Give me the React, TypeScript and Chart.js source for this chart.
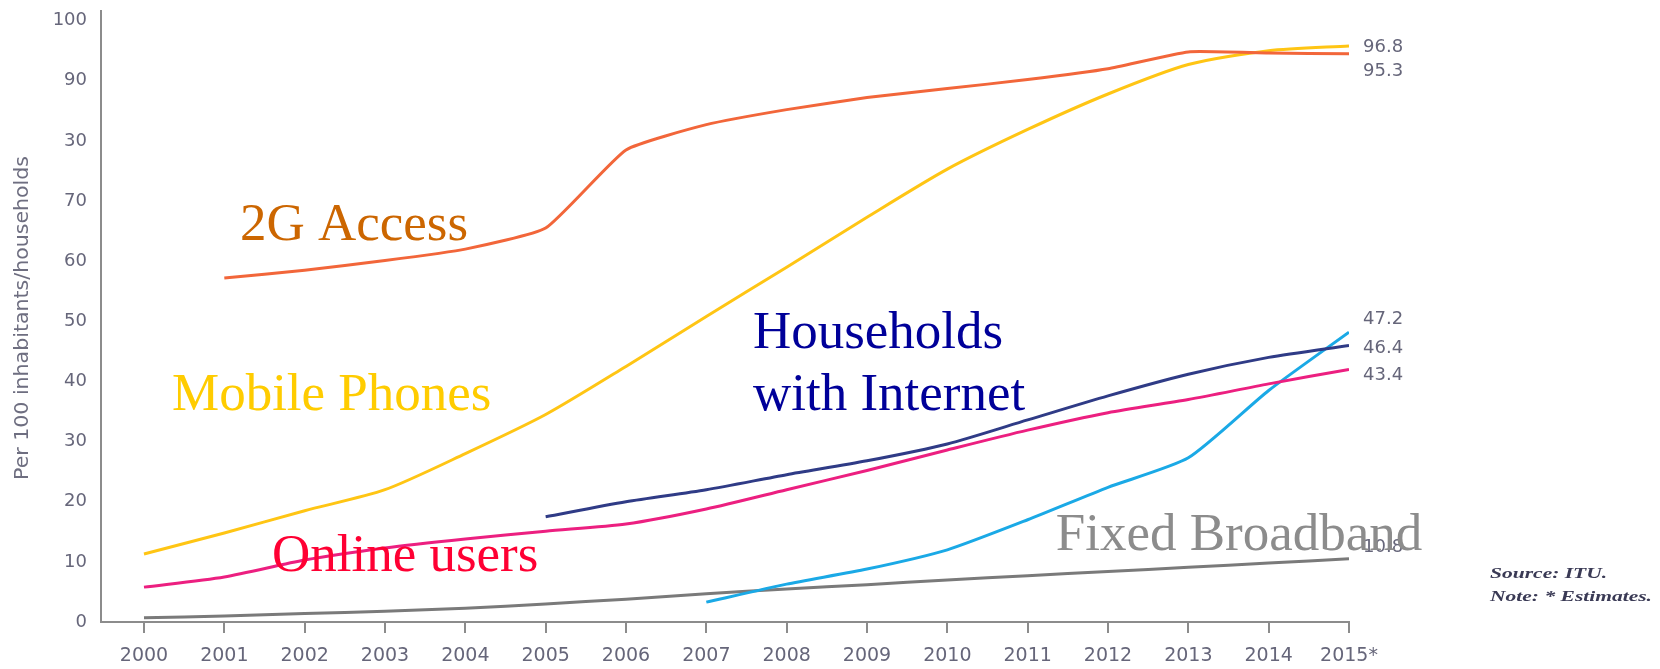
import React, { useEffect, useRef } from "react";
import { Chart, registerables } from "chart.js";

Chart.register(...registerables);

// ---------- data ----------
const years = ["2000", "2001", "2002", "2003", "2004", "2005", "2006", "2007", "2008", "2009", "2010", "2011", "2012", "2013", "2014", "2015*"];
const yTickLabels = ["0", "10", "20", "30", "40", "50", "60", "70", "30", "90", "100"];

const access2G: (number | null)[] = [null, 57.2, 58.5, 60.1, 62.0, 65.5, 78.5, 82.7, 85.2, 87.2, 88.7, 90.2, 92.0, 94.8, 94.6, 94.5];
const mobilePhones: (number | null)[] = [11.3, 14.8, 18.5, 22.0, 28.0, 34.5, 42.5, 50.8, 59.0, 67.3, 75.3, 81.9, 87.8, 92.7, 95.0, 95.8];
const householdsInternet: (number | null)[] = [null, null, null, null, null, 17.5, 20.0, 22.0, 24.5, 26.8, 29.6, 33.6, 37.6, 41.2, 44.0, 46.0];
const onlineUsers: (number | null)[] = [5.8, 7.5, 10.3, 12.3, 13.8, 15.1, 16.3, 18.8, 22.0, 25.2, 28.6, 31.9, 34.8, 37.0, 39.6, 42.0];
const mobileBroadband: (number | null)[] = [null, null, null, null, null, null, null, 3.3, 6.3, 8.8, 12.0, 17.0, 22.4, 27.3, 38.5, 48.2];
const fixedBroadband: (number | null)[] = [0.7, 1.0, 1.4, 1.8, 2.3, 3.0, 3.8, 4.7, 5.5, 6.2, 7.0, 7.7, 8.4, 9.1, 9.8, 10.5];

const seriesNames = ["2G Access", "Mobile Phones", "Households with Internet", "Online users", "Mobile broadband", "Fixed Broadband"];
const endLabels = ["95.3", "96.8", "46.4", "43.4", "47.2", "10.8"];

const yTitle = "Per 100 inhabitants/households";
const sourceNote = ["Source: ITU.", "Note: * Estimates."];

// ---------- styles (kept apart from data) ----------
const lineColors = ["#f2663a", "#ffc514", "#2f3b86", "#ec1f80", "#1aa9e6", "#7a7a7a"];
const lineTension = [0.15, 0.25, 0.25, 0.25, 0.2, 0.25];
const endLabelDy = [18, 1, 3, 6, -13, -12];

type Note = { text: string; x: number; y: number; color: string };
const annotations: Note[] = [
  { text: "2G Access", x: 1.195, y: 63.6, color: "#cc6600" },
  { text: "Mobile Phones", x: 0.349, y: 35.3, color: "#ffcc00" },
  { text: "Households", x: 7.58, y: 45.6, color: "#000099" },
  { text: "with Internet", x: 7.58, y: 35.3, color: "#000099" },
  { text: "Online users", x: 1.593, y: 8.5, color: "#ff0033" },
  { text: "Fixed Broadband", x: 11.35, y: 11.9, color: "#8c8c8c" },
];

const seriesData = [access2G, mobilePhones, householdsInternet, onlineUsers, mobileBroadband, fixedBroadband];

function toPoints(arr: (number | null)[]) {
  const pts: { x: number; y: number }[] = [];
  arr.forEach((v, i) => {
    if (v !== null) pts.push({ x: i, y: v });
  });
  return pts;
}

export default function App() {
  const ref = useRef<HTMLCanvasElement>(null);

  useEffect(() => {
    document.body.style.margin = "0";
    const canvas = ref.current;
    if (!canvas) return;

    const textPlugin = {
      id: "textPlugin",
      afterDatasetsDraw(chart: any) {
        const ctx = chart.ctx;
        const xs = chart.scales.x;
        const ys = chart.scales.y;
        ctx.save();
        // end value labels
        ctx.font = "18px 'DejaVu Sans'";
        ctx.fillStyle = "#66667a";
        ctx.textAlign = "left";
        ctx.textBaseline = "middle";
        seriesData.forEach((arr, i) => {
          const last = arr[arr.length - 1] as number;
          const px = xs.getPixelForValue(arr.length - 1) + 14;
          const py = ys.getPixelForValue(last) + endLabelDy[i];
          ctx.fillText(endLabels[i], px, py);
        });
        // annotations
        ctx.font = "53px 'Liberation Serif', 'Times New Roman', serif";
        ctx.textBaseline = "alphabetic";
        annotations.forEach((a) => {
          ctx.fillStyle = a.color;
          ctx.fillText(a.text, xs.getPixelForValue(a.x), ys.getPixelForValue(a.y));
        });
        ctx.restore();
      },
      afterDraw(chart: any) {
        const ctx = chart.ctx;
        ctx.save();
        // y axis title (rotated)
        ctx.font = "19px 'DejaVu Sans'";
        ctx.fillStyle = "#6e6e80";
        ctx.textAlign = "center";
        ctx.textBaseline = "middle";
        const w = ctx.measureText(yTitle).width;
        const sx = 324 / w;
        ctx.translate(23, 318);
        ctx.rotate(-Math.PI / 2);
        ctx.scale(sx, 1);
        ctx.fillText(yTitle, 0, 0);
        ctx.restore();

        // source note
        ctx.save();
        ctx.font = "bold italic 14px 'Liberation Serif', serif";
        ctx.fillStyle = "#3a3a55";
        ctx.textAlign = "left";
        ctx.textBaseline = "middle";
        const nw = ctx.measureText(sourceNote[1]).width;
        const nsx = 162 / nw;
        sourceNote.forEach((t, i) => {
          ctx.save();
          ctx.translate(1490, 574 + i * 23);
          ctx.scale(nsx, 1);
          ctx.fillText(t, 0, 0);
          ctx.restore();
        });
        ctx.restore();
      },
    };

    const chart = new Chart(canvas, {
      type: "line",
      data: {
        datasets: seriesData.map((arr, i) => ({
          label: seriesNames[i],
          data: toPoints(arr),
          borderColor: lineColors[i],
          backgroundColor: lineColors[i],
          borderWidth: 3,
          pointRadius: 0,
          fill: false,
          tension: lineTension[i],
        })),
      },
      options: {
        responsive: false,
        animation: false,
        devicePixelRatio: 1,
        layout: { padding: { top: 11, right: 311, left: 0, bottom: 0 } },
        plugins: { legend: { display: false }, tooltip: { enabled: false } },
        scales: {
          x: {
            type: "linear",
            min: -0.535,
            max: years.length - 1,
            afterBuildTicks: (scale: any) => {
              scale.ticks = years.map((_, i) => ({ value: i }));
            },
            afterFit: (scale: any) => {
              scale.height = 47;
              scale.paddingLeft = 0;
              scale.paddingRight = 0;
            },
            grid: {
              display: true,
              drawOnChartArea: false,
              drawTicks: true,
              tickLength: 11,
              color: "#8c8c8c",
              lineWidth: 2,
            },
            border: { display: true, color: "#8c8c8c", width: 2 },
            ticks: {
              autoSkip: false,
              maxRotation: 0,
              padding: 12,
              color: "#66667a",
              font: { family: "DejaVu Sans", size: 19 },
              callback: (v: any) => years[Math.round(Number(v))] ?? "",
            },
          },
          y: {
            type: "linear",
            min: 0,
            max: 101.6,
            afterBuildTicks: (scale: any) => {
              scale.ticks = yTickLabels.map((_, i) => ({ value: i * 10 }));
            },
            afterFit: (scale: any) => {
              scale.width = 101;
              scale.paddingTop = 0;
              scale.paddingBottom = 0;
            },
            grid: { display: false, drawTicks: false },
            border: { display: true, color: "#8c8c8c", width: 2 },
            ticks: {
              padding: 14,
              color: "#66667a",
              font: { family: "DejaVu Sans", size: 18 },
              callback: (v: any) => yTickLabels[Math.round(Number(v) / 10)] ?? "",
            },
          },
        },
      },
      plugins: [textPlugin],
    } as any);

    return () => chart.destroy();
  }, []);

  return (
    <div style={{ position: "absolute", left: 0, top: 0, width: 1660, height: 669, background: "#ffffff" }}>
      <canvas ref={ref} width={1660} height={669} style={{ width: 1660, height: 669, display: "block" }} />
    </div>
  );
}
